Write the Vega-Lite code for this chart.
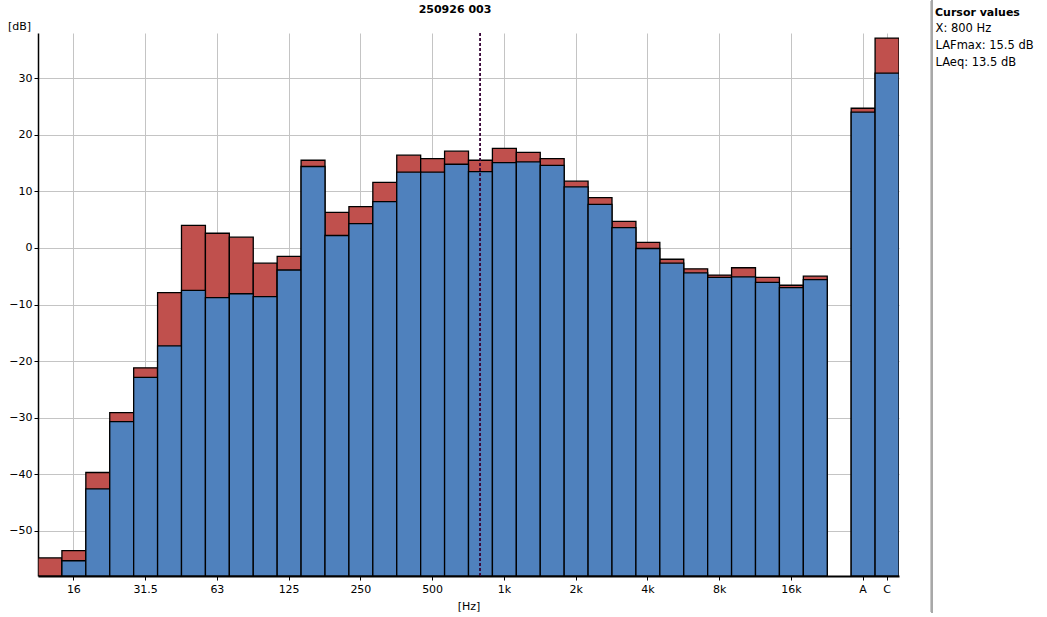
{
  "$schema": "https://vega.github.io/schema/vega-lite/v6.json",
  "width": 861,
  "height": 543,
  "autosize": {"type": "none"},
  "padding": {"left": 38, "top": 33, "right": 148, "bottom": 41},
  "background": "white",
  "data": {
    "values": [
      {"band": "12.5", "LAFmax": -54.8, "LAeq": null},
      {"band": "16", "LAFmax": -53.5, "LAeq": -55.3},
      {"band": "20", "LAFmax": -39.7, "LAeq": -42.6},
      {"band": "25", "LAFmax": -29.1, "LAeq": -30.7},
      {"band": "31.5", "LAFmax": -21.2, "LAeq": -22.9},
      {"band": "40", "LAFmax": -7.9, "LAeq": -17.3},
      {"band": "50", "LAFmax": 4.0, "LAeq": -7.5},
      {"band": "63", "LAFmax": 2.6, "LAeq": -8.8},
      {"band": "80", "LAFmax": 1.9, "LAeq": -8.1},
      {"band": "100", "LAFmax": -2.7, "LAeq": -8.6},
      {"band": "125", "LAFmax": -1.5, "LAeq": -3.9},
      {"band": "160", "LAFmax": 15.5, "LAeq": 14.4},
      {"band": "200", "LAFmax": 6.3, "LAeq": 2.2},
      {"band": "250", "LAFmax": 7.3, "LAeq": 4.3},
      {"band": "315", "LAFmax": 11.6, "LAeq": 8.2},
      {"band": "400", "LAFmax": 16.4, "LAeq": 13.4},
      {"band": "500", "LAFmax": 15.8, "LAeq": 13.4},
      {"band": "630", "LAFmax": 17.1, "LAeq": 14.8},
      {"band": "800", "LAFmax": 15.5, "LAeq": 13.5},
      {"band": "1k", "LAFmax": 17.6, "LAeq": 15.1},
      {"band": "1.25k", "LAFmax": 16.9, "LAeq": 15.2},
      {"band": "1.6k", "LAFmax": 15.8, "LAeq": 14.6},
      {"band": "2k", "LAFmax": 11.8, "LAeq": 10.8},
      {"band": "2.5k", "LAFmax": 8.9, "LAeq": 7.7},
      {"band": "3.15k", "LAFmax": 4.7, "LAeq": 3.6},
      {"band": "4k", "LAFmax": 1.0, "LAeq": -0.1},
      {"band": "5k", "LAFmax": -2.0, "LAeq": -2.7},
      {"band": "6.3k", "LAFmax": -3.7, "LAeq": -4.4},
      {"band": "8k", "LAFmax": -4.8, "LAeq": -5.2},
      {"band": "10k", "LAFmax": -3.5, "LAeq": -5.1},
      {"band": "12.5k", "LAFmax": -5.2, "LAeq": -6.1},
      {"band": "16k", "LAFmax": -6.6, "LAeq": -7.0},
      {"band": "20k", "LAFmax": -5.0, "LAeq": -5.6},
      {"band": "A", "LAFmax": 24.7, "LAeq": 24.0},
      {"band": "C", "LAFmax": 37.1, "LAeq": 30.9}
    ]
  },
  "config": {
    "font": "DejaVu Sans",
    "view": {"stroke": null},
    "axis": {
      "labelFont": "DejaVu Sans",
      "labelFontSize": 11,
      "labelColor": "black",
      "titleFont": "DejaVu Sans",
      "titleFontSize": 11,
      "titleFontWeight": "normal",
      "titleColor": "black",
      "gridColor": "#c4c4c4",
      "gridWidth": 1,
      "gridOpacity": 1,
      "tickColor": "black",
      "tickSize": 4,
      "tickWidth": 1,
      "domainColor": "black"
    }
  },
  "resolve": {"scale": {"x": "independent"}},
  "layer": [
    {
      "layer": [
        {
          "mark": {"type": "bar", "stroke": "black", "strokeWidth": 1.3, "clip": true, "fillOpacity": 1},
          "encoding": {
            "x": {
              "field": "band",
              "type": "nominal",
              "sort": null,
              "scale": {
                "type": "band",
                "paddingInner": 0,
                "paddingOuter": 0,
                "domain": ["12.5","16","20","25","31.5","40","50","63","80","100","125","160","200","250","315","400","500","630","800","1k","1.25k","1.6k","2k","2.5k","3.15k","4k","5k","6.3k","8k","10k","12.5k","16k","20k","25k","A","C"]
              },
              "axis": {
                "title": "[Hz]",
                "titlePadding": 6,
                "values": ["16","31.5","63","125","250","500","1k","2k","4k","8k","16k","A","C"],
                "labelAngle": 0,
                "labelPadding": 3,
                "domainWidth": 2,
                "grid": true,
                "bandPosition": 0.5
              }
            },
            "y": {
              "field": "LAFmax",
              "type": "quantitative",
              "scale": {"domain": [-58, 38], "nice": false, "zero": false},
              "axis": {
                "title": "[dB]",
                "titleAngle": 0,
                "titleX": -19,
                "titleY": -7,
                "titleAlign": "center",
                "titleBaseline": "middle",
                "values": [-50, -40, -30, -20, -10, 0, 10, 20, 30],
                "labelPadding": 2,
                "domainWidth": 1.5,
                "grid": true
              }
            },
            "y2": {"datum": -58},
            "color": {
              "datum": "LAFmax",
              "scale": {"domain": ["X", "LAFmax", "LAeq"], "range": ["#4F81BD", "#C0504D", "#4F81BD"]},
              "legend": {
                "orient": "none",
                "legendX": 897,
                "legendY": -26,
                "title": "Cursor values",
                "titleFont": "DejaVu Sans",
                "titleFontSize": 11,
                "titleFontWeight": "bold",
                "titleColor": "black",
                "titlePadding": 5,
                "labelFont": "DejaVu Sans",
                "labelFontSize": 11.5,
                "symbolSize": 0,
                "symbolOpacity": 0,
                "symbolStrokeWidth": 0,
                "labelOffset": -11,
                "rowPadding": 4,
                "padding": 0,
                "labelExpr": "datum.value == 'X' ? 'X: 800 Hz' : datum.value == 'LAFmax' ? 'LAFmax: 15.5 dB' : 'LAeq: 13.5 dB'",
                "encode": {"labels": {"update": {"fill": {"signal": "datum.value == 'LAFmax' ? '#C0504D' : '#4F81BD'"}}}}
              }
            }
          }
        },
        {
          "mark": {"type": "bar", "stroke": "black", "strokeWidth": 1.3, "clip": true, "fillOpacity": 1},
          "encoding": {
            "x": {"field": "band", "type": "nominal", "sort": null},
            "y": {"field": "LAeq", "type": "quantitative"},
            "y2": {"datum": -58},
            "color": {"datum": "LAeq"}
          }
        },
        {
          "mark": {"type": "rule", "color": "#3d0a3d", "strokeWidth": 1, "strokeDash": [3, 2]},
          "encoding": {
            "x": {"datum": "800", "type": "nominal"}
          }
        }
      ]
    },
    {
      "mark": {"type": "rule", "color": "#a8a8a8", "strokeWidth": 2, "clip": false},
      "encoding": {
        "x": {
          "datum": 1.0383,
          "type": "quantitative",
          "scale": {"domain": [0, 1], "nice": false, "zero": false},
          "axis": {
            "orient": "top",
            "domain": false,
            "ticks": false,
            "labels": false,
            "grid": false,
            "title": "250926 003",
            "titleFontWeight": "bold",
            "titleX": 416.5,
            "titleY": -24,
            "titleAlign": "center",
            "titleBaseline": "middle"
          }
        },
        "y": {"datum": 43.8},
        "y2": {"datum": -64.5}
      }
    }
  ]
}
